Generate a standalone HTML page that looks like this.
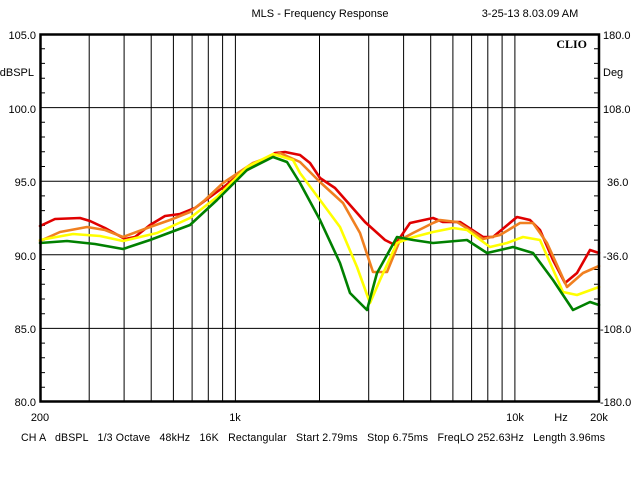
<!DOCTYPE html>
<html><head><style>
body{margin:0;background:#fff;}
svg{display:block;font-family:"Liberation Sans",sans-serif;font-size:11px;}
</style></head><body>
<svg width="640" height="480" viewBox="0 0 640 480" xmlns="http://www.w3.org/2000/svg">
<rect width="640" height="480" fill="#fff"/>
<text x="320" y="17" text-anchor="middle">MLS - Frequency Response</text>
<text x="530" y="17" text-anchor="middle">3-25-13 8.03.09 AM</text>
<g stroke="#000" stroke-width="1">
<line x1="40" y1="107.6" x2="599" y2="107.6"/>
<line x1="40" y1="181.2" x2="599" y2="181.2"/>
<line x1="40" y1="254.8" x2="599" y2="254.8"/>
<line x1="40" y1="328.4" x2="599" y2="328.4"/>
<line x1="89.2" y1="34" x2="89.2" y2="402"/>
<line x1="124.1" y1="34" x2="124.1" y2="402"/>
<line x1="151.2" y1="34" x2="151.2" y2="402"/>
<line x1="173.4" y1="34" x2="173.4" y2="402"/>
<line x1="192.1" y1="34" x2="192.1" y2="402"/>
<line x1="208.3" y1="34" x2="208.3" y2="402"/>
<line x1="222.6" y1="34" x2="222.6" y2="402"/>
<line x1="235.4" y1="34" x2="235.4" y2="402"/>
<line x1="319.5" y1="34" x2="319.5" y2="402"/>
<line x1="368.7" y1="34" x2="368.7" y2="402"/>
<line x1="403.6" y1="34" x2="403.6" y2="402"/>
<line x1="430.7" y1="34" x2="430.7" y2="402"/>
<line x1="452.9" y1="34" x2="452.9" y2="402"/>
<line x1="471.6" y1="34" x2="471.6" y2="402"/>
<line x1="487.8" y1="34" x2="487.8" y2="402"/>
<line x1="502.1" y1="34" x2="502.1" y2="402"/>
<line x1="514.9" y1="34" x2="514.9" y2="402"/>
</g>
<g stroke="#000" stroke-width="1">
<path d="M41 48.7h4M41 63.4h4M41 78.2h4M41 92.9h4M41 122.3h4M41 137h4M41 151.8h4M41 166.5h4M41 195.9h4M41 210.6h4M41 225.4h4M41 240.1h4M41 269.5h4M41 284.2h4M41 299h4M41 313.7h4M41 343.1h4M41 357.8h4M41 372.6h4M41 387.3h4"/>
<path d="M598 48.7h-4M598 63.4h-4M598 78.2h-4M598 92.9h-4M598 122.3h-4M598 137h-4M598 151.8h-4M598 166.5h-4M598 195.9h-4M598 210.6h-4M598 225.4h-4M598 240.1h-4M598 269.5h-4M598 284.2h-4M598 299h-4M598 313.7h-4M598 343.1h-4M598 357.8h-4M598 372.6h-4M598 387.3h-4"/>
</g>
<g fill="none" stroke-width="2.6" stroke-linejoin="round" stroke-linecap="round">
<polyline stroke="#e00000" points="40,226 55,219 80,218 90,221 105,228 125,239 135,237 150,225 165,216 180,214 195,208 210,197 225,186 240,174 260,163 275,153 285,152 300,155 310,163 320,178 335,188 350,205 365,222 385,240 395,245 410,223 433,218 443,222 460,222 483,237 493,237 517,217 530,220 540,230 553,260 565,283 577,273 590,250 599,253"/>
<polyline stroke="#f08020" points="40,241 60,232 87,227 105,230 123,237 150,227 170,220 190,212 205,200 223,183 253,163 280,153 300,162 320,182 343,203 360,233 373,272 387,272 400,240 413,233 433,223 440,220 457,222 473,232 483,239 500,235 520,223 533,223 547,243 567,287 583,273 599,266"/>
<polyline stroke="#ffff00" points="40,240 73,234 100,236 123,241 157,233 190,218 217,197 247,167 273,154 293,160 300,173 320,200 340,227 357,267 370,303 380,280 397,243 410,238 433,232 453,228 467,230 490,247 507,243 523,237 540,240 563,292 577,295 599,287"/>
<polyline stroke="#008000" points="40,243 67,241 95,244 123,249 150,240 190,225 217,200 247,170 273,157 287,162 300,183 320,220 340,263 350,293 367,310 377,273 397,237 413,240 433,243 467,240 487,253 513,247 533,253 553,280 573,310 590,302 599,305"/>
</g>
<rect x="40.5" y="34.5" width="558.5" height="367" fill="none" stroke="#000" stroke-width="2.5"/>
<g text-anchor="end">
<text x="36" y="39">105.0</text>
<text x="36" y="113">100.0</text>
<text x="36" y="186">95.0</text>
<text x="36" y="260">90.0</text>
<text x="36" y="333">85.0</text>
<text x="36" y="406">80.0</text>
<text x="34" y="76">dBSPL</text>
</g>
<g text-anchor="start">
<text x="603" y="39">180.0</text>
<text x="607" y="186">36.0</text>
<text x="603" y="260">-36.0</text>
<text x="600" y="333">-108.0</text>
<text x="600" y="406">-180.0</text>
<text x="603" y="76">Deg</text>
<text x="603" y="113">108.0</text>
</g>
<text x="587" y="48" text-anchor="end" font-family="Liberation Serif,serif" font-weight="bold" font-size="12">CLIO</text>
<g text-anchor="middle">
<text x="40" y="421">200</text>
<text x="235" y="421">1k</text>
<text x="515" y="421">10k</text>
<text x="561" y="421">Hz</text>
<text x="599" y="421">20k</text>
</g>
<text x="21" y="441" font-size="10.6" xml:space="preserve" textLength="584" lengthAdjust="spacing">CH A   dBSPL   1/3 Octave   48kHz   16K   Rectangular   Start 2.79ms   Stop 6.75ms   FreqLO 252.63Hz   Length 3.96ms</text>
</svg>
</body></html>
